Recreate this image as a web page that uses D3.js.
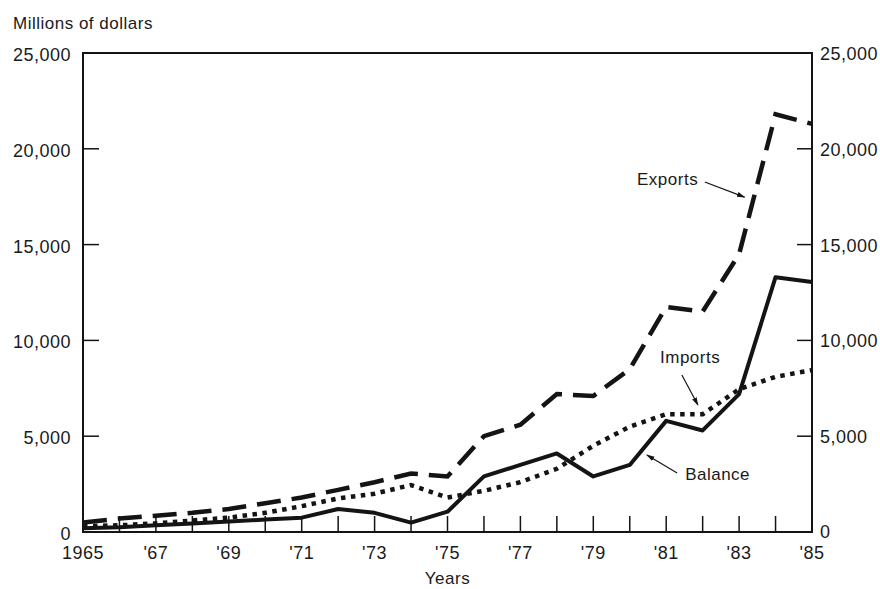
<!DOCTYPE html>
<html><head><meta charset="utf-8">
<script src="https://cdn.jsdelivr.net/npm/d3@7/dist/d3.min.js"></script>
<style>
body{margin:0;background:#fff;}
text{font-family:"Liberation Sans",Arial,sans-serif;fill:#1a1a1a;letter-spacing:0.5px;}
</style></head>
<body><svg id="c" width="880" height="589"></svg>
<script>
const years = d3.range(1965, 1986);
const exportsVals = [500,700,850,1000,1200,1500,1800,2200,2600,3050,2900,5000,5600,7200,7100,8500,11750,11500,14500,21800,21300];
const importsVals = [300,350,450,600,750,1000,1350,1750,2000,2450,1800,2150,2600,3300,4500,5500,6150,6150,7450,8100,8450];
const balanceVals = [200,250,350,450,550,650,750,1200,1000,490,1060,2900,3500,4100,2900,3500,5800,5300,7200,13300,13050];
const yTicks = [0,5000,10000,15000,20000,25000];
const xLabelYears = [1965,1967,1969,1971,1973,1975,1977,1979,1981,1983,1985];

const svg = d3.select("#c");
const L=83, R=812, T=53, B=532;
const x = d3.scaleLinear().domain([1965,1985]).range([L,R]);
const y = d3.scaleLinear().domain([0,25000]).range([B,T]);
const ink="#141414";

// frame
svg.append("rect").attr("x",L).attr("y",T).attr("width",R-L).attr("height",B-T)
  .attr("fill","none").attr("stroke",ink).attr("stroke-width",2);

// x ticks (inward)
svg.append("g").selectAll("line").data(years.slice(1,-1)).join("line")
  .attr("x1",d=>x(d)).attr("x2",d=>x(d)).attr("y1",B).attr("y2",B-16)
  .attr("stroke",ink).attr("stroke-width",1.5);
// y ticks inward both sides
const yt = yTicks.slice(1,-1);
svg.append("g").selectAll("line").data(yt).join("line")
  .attr("x1",L).attr("x2",L+16).attr("y1",d=>y(d)).attr("y2",d=>y(d))
  .attr("stroke",ink).attr("stroke-width",1.5);
svg.append("g").selectAll("line").data(yt).join("line")
  .attr("x1",R).attr("x2",R-15).attr("y1",d=>y(d)).attr("y2",d=>y(d))
  .attr("stroke",ink).attr("stroke-width",1.5);

const fmt = d3.format(",");
// left labels
svg.append("g").selectAll("text").data(yTicks).join("text")
  .attr("x",L-12).attr("y",d=>y(d)+8).attr("text-anchor","end")
  .attr("font-size",18).text(d=>fmt(d));
// right labels
svg.append("g").selectAll("text").data(yTicks).join("text")
  .attr("x",R+8).attr("y",d=>y(d)+(d===0?6:7)).attr("text-anchor","start")
  .attr("font-size",18).text(d=>fmt(d));
// x labels
svg.append("g").selectAll("text").data(xLabelYears).join("text")
  .attr("x",d=>x(d)).attr("y",B+27).attr("text-anchor","middle")
  .attr("font-size",18).text(d=>d===1965?"1965":"'"+String(d).slice(2));

svg.append("text").attr("x",(L+R)/2).attr("y",584).attr("text-anchor","middle")
  .attr("font-size",17).text("Years");
svg.append("text").attr("x",13).attr("y",29).attr("font-size",17).text("Millions of dollars");

// lines
const line = d3.line().x((d,i)=>x(years[i])).y(d=>y(d));
svg.append("path").attr("d",line(exportsVals)).attr("fill","none").attr("stroke",ink)
  .attr("stroke-width",4.5).attr("stroke-dasharray","24,11");
svg.append("path").attr("d",line(importsVals)).attr("fill","none").attr("stroke",ink)
  .attr("stroke-width",4.5).attr("stroke-dasharray","4.5,5.5");
svg.append("path").attr("d",line(balanceVals)).attr("fill","none").attr("stroke",ink)
  .attr("stroke-width",4).attr("stroke-linejoin","round");

// annotations
const defs = svg.append("defs");
defs.append("marker").attr("id","ah").attr("viewBox","0 0 10 10").attr("refX",9).attr("refY",5)
  .attr("markerWidth",7).attr("markerHeight",7).attr("orient","auto")
  .append("path").attr("d","M0,2 L10,5 L0,8 Z").attr("fill",ink);

function note(label, tx, ty, ax1, ay1, ax2, ay2){
  svg.append("text").attr("x",tx).attr("y",ty).attr("font-size",17).text(label);
  svg.append("line").attr("x1",ax1).attr("y1",ay1).attr("x2",ax2).attr("y2",ay2)
    .attr("stroke",ink).attr("stroke-width",1.2).attr("marker-end","url(#ah)");
}
note("Exports", x(1980.2), y(18110), x(1982.06), y(18270), x(1983.15), y(17480));
note("Imports", x(1980.83), y(8820), x(1981.43), y(8190), x(1981.87), y(6630));
note("Balance", x(1981.52), y(2710), x(1981.3), y(3080), x(1980.47), y(4020));
</script></body></html>
